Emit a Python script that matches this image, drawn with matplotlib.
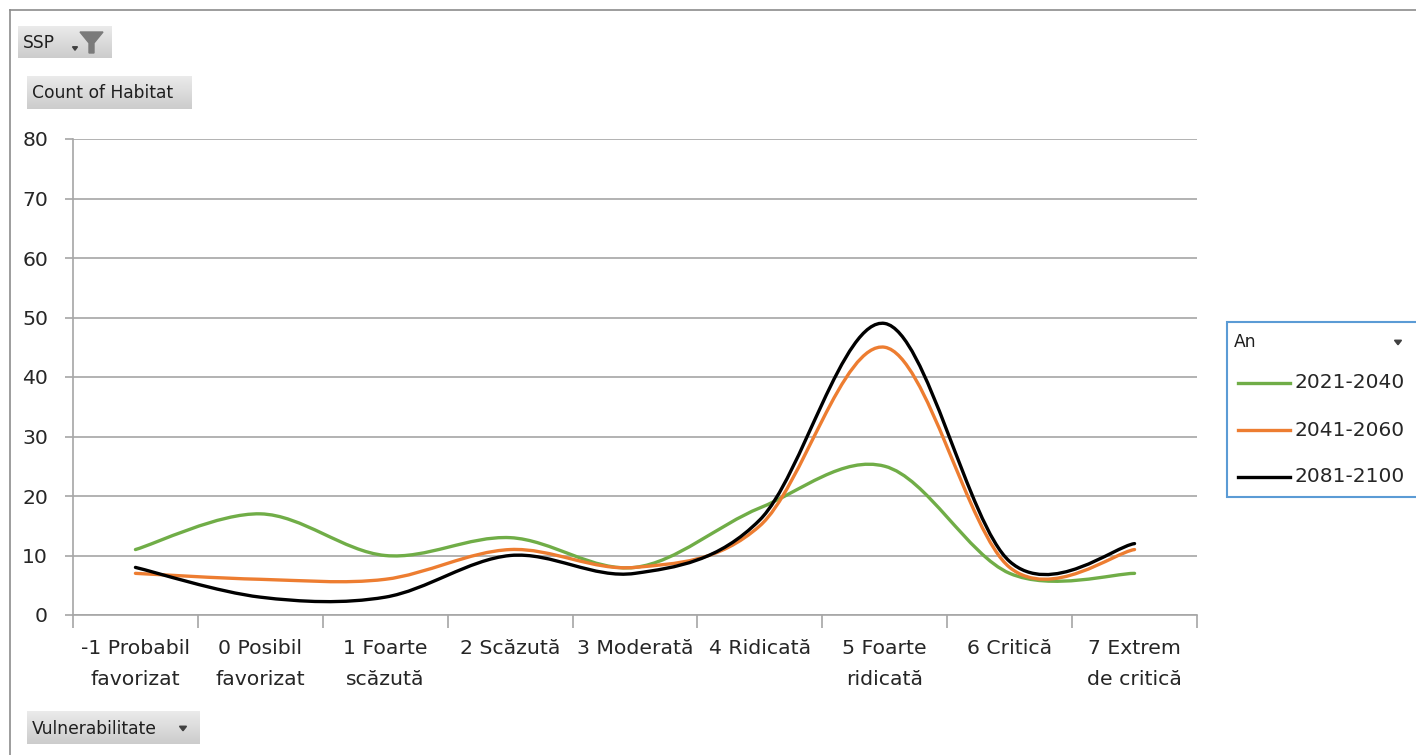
import matplotlib.pyplot as plt
import numpy as np
from matplotlib.path import Path
from matplotlib.patches import PathPatch, Rectangle, Polygon
from matplotlib.lines import Line2D

plt.rcParams['font.family'] = ['DejaVu Sans']

categories = ["-1 Probabil\nfavorizat", "0 Posibil\nfavorizat", "1 Foarte\nscăzută",
              "2 Scăzută", "3 Moderată", "4 Ridicată", "5 Foarte\nridicată",
              "6 Critică", "7 Extrem\nde critică"]
series_names = ["2021-2040", "2041-2060", "2081-2100"]
v_2021_2040 = [11, 17, 10, 13, 8, 18, 25, 7, 7]
v_2041_2060 = [7, 6, 6, 11, 8, 15, 45, 8, 11]
v_2081_2100 = [8, 3, 3, 10, 7, 16, 49, 9, 12]
series_values = [v_2021_2040, v_2041_2060, v_2081_2100]
colors = ["#70AD47", "#ED7D31", "#000000"]
y_ticks = [0, 10, 20, 30, 40, 50, 60, 70, 80]

W, H = 1416, 755
GRID = "#a6a6a6"
TXT = "#262626"


def fx(px):
    return px / W


def fy(py):
    return 1 - py / H


def smooth_path(xs, ys):
    # Excel-like smoothed line: Catmull-Rom segments written as cubic Beziers
    pts = np.column_stack([xs, ys]).astype(float)
    ext = np.vstack([pts[0], pts, pts[-1]])
    verts = [pts[0]]
    codes = [Path.MOVETO]
    for i in range(len(pts) - 1):
        p0, p1, p2, p3 = ext[i], ext[i + 1], ext[i + 2], ext[i + 3]
        verts += [p1 + (p2 - p0) / 6, p2 - (p3 - p1) / 6, p2]
        codes += [Path.CURVE4] * 3
    return Path(verts, codes)


def gradient_box(fig, x0, y0, x1, y1, top=0.92, bottom=0.80):
    bax = fig.add_axes([fx(x0), fy(y1), fx(x1 - x0), (y1 - y0) / H])
    grad = np.linspace(top, bottom, 50).reshape(-1, 1)
    bax.imshow(np.dstack([grad, grad, grad]), aspect='auto', extent=[0, 1, 0, 1])
    bax.set_axis_off()


def button(fig, x0, y0, x1, y1, text, fs=12.3):
    gradient_box(fig, x0, y0, x1, y1)
    fig.text(fx(x0 + 5), fy((y0 + y1) / 2 + 1), text, fontsize=fs, color="#1f1f1f",
             ha='left', va='center')


def dropdown(fig, cx, cy, s=3.5, color="#404040"):
    fig.patches.append(Polygon([[fx(cx - s), fy(cy - s / 2)], [fx(cx + s), fy(cy - s / 2)],
                                [fx(cx), fy(cy + s / 2 + 1)]], closed=True,
                               transform=fig.transFigure, color=color))


fig = plt.figure(figsize=(W / 100, H / 100), dpi=100)

# outer chart border
fig.add_artist(Line2D([fx(10), fx(10)], [fy(10), 0], color="#8c8c8c", lw=1.2))
fig.add_artist(Line2D([fx(10), 1], [fy(10), fy(10)], color="#8c8c8c", lw=1.2))

ax = fig.add_axes([fx(73), fy(615), fx(1197 - 73), (615 - 139) / H])
x = np.arange(len(categories))
for vals, col in zip(series_values, colors):
    ax.add_patch(PathPatch(smooth_path(x, vals), fill=False, edgecolor=col,
                           lw=2.4, capstyle='round', zorder=3))

ax.set_xlim(-0.5, len(categories) - 0.5)
ax.set_ylim(0, 80)
ax.set_yticks(y_ticks)
ax.set_yticklabels([str(t) for t in y_ticks], fontsize=14.7, color=TXT)
ax.set_xticks(x)
ax.set_xticklabels(categories, fontsize=14.7, color=TXT, linespacing=1.8)
ax.set_xticks(np.arange(-0.5, len(categories)), minor=True)
ax.tick_params(axis='x', which='major', length=0, pad=17)
ax.tick_params(axis='x', which='minor', length=9, width=1.2, color=GRID)
ax.tick_params(axis='y', length=6, width=1.2, color=GRID, pad=12)
ax.grid(axis='y', color=GRID, lw=1.2)
ax.set_axisbelow(True)
for s in ['top', 'right']:
    ax.spines[s].set_visible(False)
for s in ['left', 'bottom']:
    ax.spines[s].set_color(GRID)
    ax.spines[s].set_linewidth(1.2)

# pivot field buttons
button(fig, 18, 26, 112, 58, "SSP")
fig.patches.append(Polygon([[fx(80), fy(32)], [fx(103), fy(32)], [fx(94), fy(43)],
                            [fx(94), fy(53)], [fx(89), fy(53)], [fx(89), fy(43)]],
                           closed=True, transform=fig.transFigure, color="#7a7a7a"))
dropdown(fig, 75, 48, s=2.5)
button(fig, 27, 76, 192, 109, "Count of Habitat")
button(fig, 27, 711, 200, 744, "Vulnerabilitate")
dropdown(fig, 183, 728)

# legend (pivot "An" field)
fig.patches.append(Rectangle((fx(1227), fy(497)), fx(W - 1227 + 5), (497 - 322) / H,
                             transform=fig.transFigure, facecolor="white",
                             edgecolor="#5b9bd5", lw=1.5))
gradient_box(fig, 1229, 324, W, 358, top=0.93, bottom=0.83)
fig.text(fx(1234), fy(342), "An", fontsize=12.3, color="#1f1f1f", ha='left', va='center')
dropdown(fig, 1398, 342)
for i, (name, col) in enumerate(zip(series_names, colors)):
    yy = 383 + i * 47
    fig.add_artist(Line2D([fx(1238), fx(1290)], [fy(yy), fy(yy)], color=col, lw=2.4))
    fig.text(fx(1295), fy(yy), name, fontsize=14.5, color=TXT, ha='left', va='center')

fig.savefig("out.png", dpi=100)
